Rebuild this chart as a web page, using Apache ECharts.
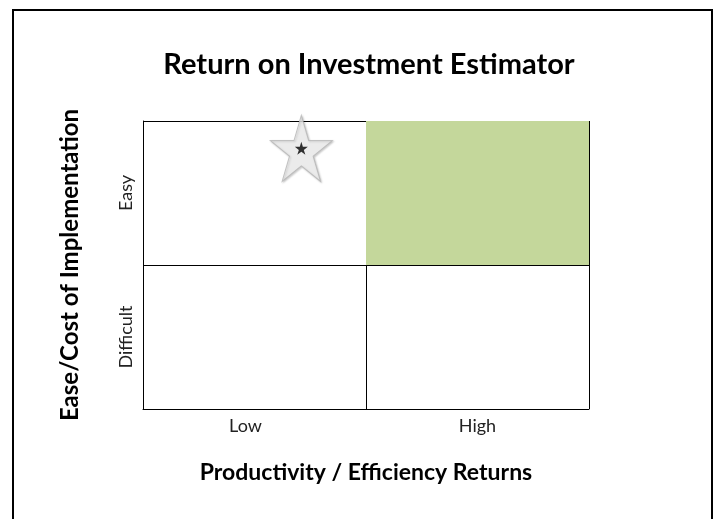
<!DOCTYPE html>
<html>
<head>
    <meta charset="utf-8">
    <title>Return on Investment Estimator</title>
    <script src="https://cdn.jsdelivr.net/npm/echarts@6/dist/echarts.min.js"></script>
    <style type="text/css">
        html, body { margin: 0; padding: 0; background: #fff; }
        #main { width: 715px; height: 519px; }
    </style>
</head>
<body>
    <div id="main"></div>
    <script type="text/javascript">
        // quadrant labels
        var xCategories = ['Low', 'High'];
        var yCategories = ['Difficult', 'Easy'];
        // value scale of the matrix, split in the middle
        var scaleMin = 0, scaleMax = 10, scaleSplit = 5;
        // highlighted quadrant (high returns, easy)
        var goodCell = [[5, 5], [10, 10]];
        // the estimate marker
        var estimate = [[3.55, 9.05]];

        var font = 'Lato, "Open Sans", sans-serif';
        var starPath = 'path://M50 0 L61.23 34.55 L97.55 34.55 L68.16 55.9 L79.39 90.45 L50 69.1 L20.61 90.45 L31.84 55.9 L2.45 34.55 L38.77 34.55 Z';

        var chart = echarts.init(document.getElementById('main'));
        var option = {
            backgroundColor: '#fff',
            animation: false,
            title: {
                text: 'Return on Investment Estimator',
                left: 364,
                top: 45,
                textAlign: 'center',
                textStyle: { fontFamily: font, fontSize: 29, fontWeight: 'bold', color: '#000' }
            },
            graphic: [{
                type: 'rect',
                shape: { x: 13, y: 10, width: 699, height: 520 },
                style: { fill: 'none', stroke: '#000', lineWidth: 2 },
                silent: true
            }],
            grid: { left: 143, top: 121, right: 126, bottom: 110 },
            xAxis: [{
                type: 'value',
                min: scaleMin, max: scaleMax, interval: scaleSplit,
                name: 'Productivity / Efficiency Returns',
                nameLocation: 'middle',
                nameGap: 52,
                nameTextStyle: { fontFamily: font, fontSize: 23, fontWeight: 'bold', color: '#000' },
                axisLine: { show: true, lineStyle: { color: '#000', width: 1 } },
                axisTick: { show: false },
                axisLabel: { show: false },
                splitLine: { show: true, lineStyle: { color: '#000', width: 1 } }
            }, {
                type: 'category',
                data: xCategories,
                position: 'bottom',
                boundaryGap: true,
                axisLine: { show: false },
                axisTick: { show: false },
                splitLine: { show: false },
                axisLabel: {
                    fontFamily: font, fontSize: 18, color: '#222', margin: 8,
                    formatter: function (v) { return v === 'Low' ? '{low|' + v + '}' : v; },
                    rich: { low: { fontFamily: font, fontSize: 18, color: '#222', padding: [0, 18, 0, 0] } }
                }
            }],
            yAxis: [{
                type: 'value',
                min: scaleMin, max: scaleMax, interval: scaleSplit,
                name: 'Ease/Cost of Implementation',
                nameLocation: 'middle',
                nameGap: 61,
                nameTextStyle: { fontFamily: font, fontSize: 24, fontWeight: 'bold', color: '#000' },
                axisLine: { show: true, lineStyle: { color: '#000', width: 1 } },
                axisTick: { show: false },
                axisLabel: { show: false },
                splitLine: { show: true, lineStyle: { color: '#000', width: 1 } }
            }, {
                type: 'category',
                data: yCategories,
                position: 'left',
                boundaryGap: true,
                axisLine: { show: false },
                axisTick: { show: false },
                splitLine: { show: false },
                axisLabel: { fontFamily: font, fontSize: 18, color: '#222', rotate: 90, margin: 8 }
            }],
            series: [{
                type: 'scatter',
                xAxisIndex: 0, yAxisIndex: 0,
                data: estimate,
                symbol: starPath,
                symbolSize: [62, 66],
                z: 5,
                itemStyle: {
                    color: '#f2f2f2',
                    borderColor: '#b5b5b5',
                    borderWidth: 1,
                    shadowColor: 'rgba(0,0,0,0.25)',
                    shadowBlur: 2,
                    shadowOffsetX: 1,
                    shadowOffsetY: 1
                },
                markArea: {
                    silent: true,
                    itemStyle: { color: '#c4d79b' },
                    data: [[{ coord: goodCell[0] }, { coord: goodCell[1] }]]
                }
            }, {
                type: 'scatter',
                xAxisIndex: 0, yAxisIndex: 0,
                data: estimate,
                symbol: starPath,
                symbolSize: [13, 13],
                z: 6,
                itemStyle: { color: '#000' }
            }]
        };
        chart.setOption(option);
    </script>
</body>
</html>
